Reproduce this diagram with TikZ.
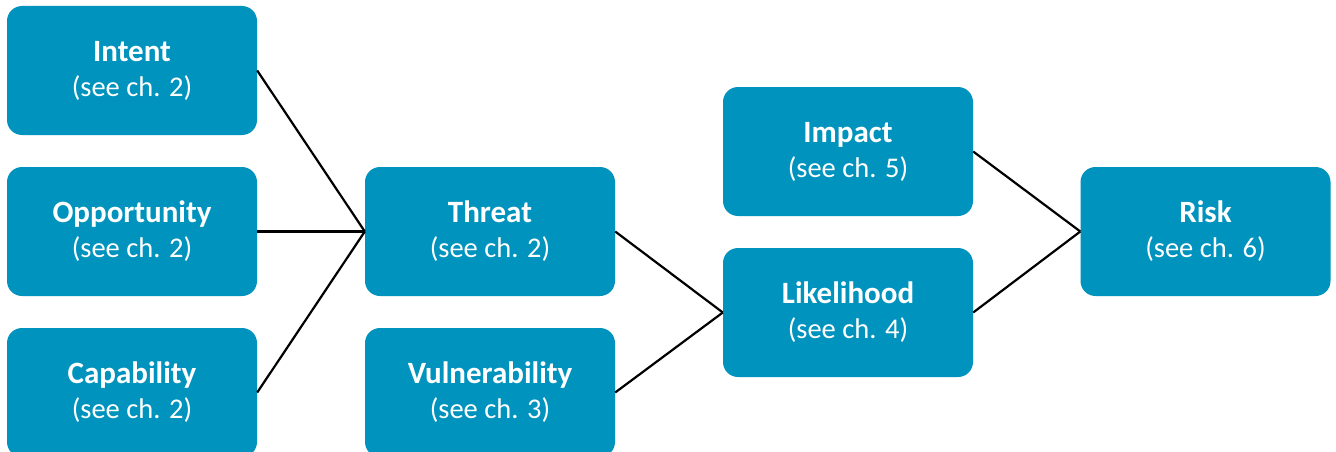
\documentclass[tikz,border=0pt]{standalone}
\usepackage{fontspec}
\setmainfont{Carlito}
\definecolor{boxblue}{RGB}{0,147,189}
\newcommand{\ttl}[1]{{\fontsize{31}{35}\selectfont\bfseries #1}}
\newcommand{\sub}[1]{{\fontsize{28.5}{35}\selectfont #1}}
\begin{document}
\begin{tikzpicture}[x=1pt,y=-1pt,
  box/.style={rectangle, rounded corners=15pt, minimum width=250pt, minimum height=129pt,
    fill=boxblue, text=white, align=center, inner sep=0pt, font=\fontsize{28.5}{35}\selectfont},
  conn/.style={draw=black, line width=2.2pt}]
\clip (0,0) rectangle (1336,452);
\fill[white] (0,0) rectangle (1336,452);
\node[box] (intent) at (132,70.5) {\ttl{Intent}\\\sub{(see ch. 2)}};
\node[box] (opp) at (132,231.5) {\ttl{Opportunity}\\\sub{(see ch. 2)}};
\node[box] (cap) at (132,392.5) {\ttl{Capability}\\\sub{(see ch. 2)}};
\node[box] (threat) at (490,231.5) {\ttl{Threat}\\\sub{(see ch. 2)}};
\node[box] (vuln) at (490,392.5) {\ttl{Vulnerability}\\\sub{(see ch. 3)}};
\node[box] (impact) at (848,151.5) {\ttl{Impact}\\\sub{(see ch. 5)}};
\node[box] (like) at (848,312.5) {\ttl{Likelihood}\\\sub{(see ch. 4)}};
\node[box] (risk) at (1205.5,231.5) {\ttl{Risk}\\\sub{(see ch. 6)}};
\draw[conn] (intent.east) -- (threat.west);
\draw[conn] (opp.east) -- (threat.west);
\draw[conn] (cap.east) -- (threat.west);
\draw[conn] (threat.east) -- (like.west);
\draw[conn] (vuln.east) -- (like.west);
\draw[conn] (impact.east) -- (risk.west);
\draw[conn] (like.east) -- (risk.west);
\end{tikzpicture}
\end{document}
